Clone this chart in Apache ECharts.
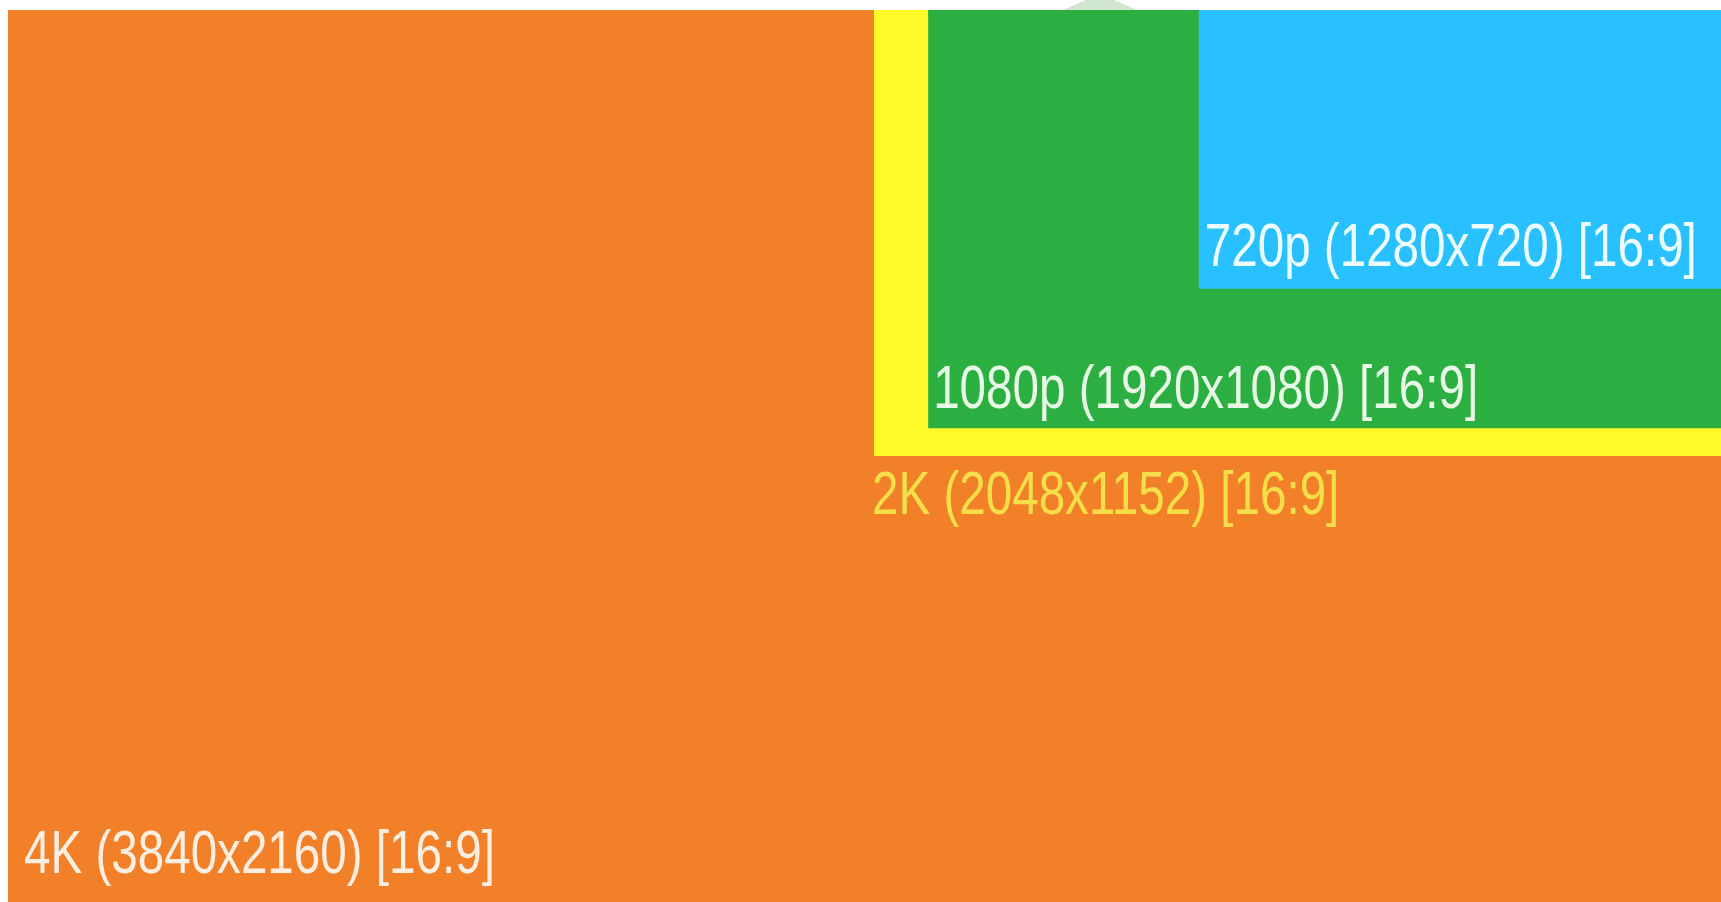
<!DOCTYPE html>
<html>
<head>
<meta charset="utf-8">
<script src="https://cdn.jsdelivr.net/npm/echarts@6/dist/echarts.min.js"></script>
<style>
html,body{margin:0;padding:0;background:#ffffff;}
#chart{width:1721px;height:902px;}
</style>
</head>
<body>
<div id="chart"></div>
<script>
// ---- data (resolutions, drawn box sizes in pixel units of the frame) ----
const names = ['4K', '2K', '1080p', '720p'];
const labels = ['4K (3840x2160) [16:9]', '2K (2048x1152) [16:9]', '1080p (1920x1080) [16:9]', '720p (1280x720) [16:9]'];
const boxWidths = [4096, 2048, 1920, 1280];
const boxHeights = [2304, 1152, 1080, 720];
const boxRightEdge = 4096;          // boxes share the top-right corner
const xExtent = [0, 4051];          // visible part of the frame (cropped on the right)
const yExtent = [0, 2304];

// ---- styles ----
const fills = ['#f28029', '#fff92a', '#2baf40', '#29c0ff'];
const textFills = ['#fcefe2', '#f4df48', '#e8f8e6', '#ecfcff'];
const labelDx = [16, -2, 5, 6];
const labelDy = [-46, 41, -37, -40];

const chart = echarts.init(document.getElementById('chart'), null, {renderer: 'canvas'});

const seriesData = names.map((n, i) => ({name: n, value: [i, boxWidths[i], boxHeights[i]]}));

chart.setOption({
  backgroundColor: '#ffffff',
  animation: false,
  grid: {left: 8, top: 10, right: 0, bottom: 0, containLabel: false},
  xAxis: {type: 'value', min: xExtent[0], max: xExtent[1], show: false},
  yAxis: {type: 'value', min: yExtent[0], max: yExtent[1], inverse: true, show: false},
  graphic: [{
    type: 'polygon',
    z: -1,
    shape: {points: [[1063, 10], [1086, 0], [1114, 0], [1137, 10]]},
    style: {fill: '#cfe5d0'}
  }],
  series: [{
    type: 'custom',
    silent: true,
    clip: false,
    encode: {x: 1, y: 2},
    data: seriesData,
    renderItem: function (params, api) {
      const i = params.dataIndex;
      const w = api.value(1), h = api.value(2);
      const p0 = api.coord([boxRightEdge - w, 0]);
      const p1 = api.coord([boxRightEdge, h]);
      return {
        type: 'group',
        children: [
          {
            type: 'rect',
            shape: {x: p0[0], y: p0[1], width: p1[0] - p0[0], height: p1[1] - p0[1]},
            style: {fill: fills[i]}
          },
          {
            type: 'text',
            x: p0[0] + labelDx[i],
            y: p1[1] + labelDy[i],
            scaleX: 0.78,
            style: {
              text: labels[i],
              fill: textFills[i],
              fontSize: 61,
              fontFamily: '"Liberation Sans", Arial, sans-serif',
              align: 'left',
              verticalAlign: 'middle'
            }
          }
        ]
      };
    }
  }]
});
</script>
</body>
</html>
